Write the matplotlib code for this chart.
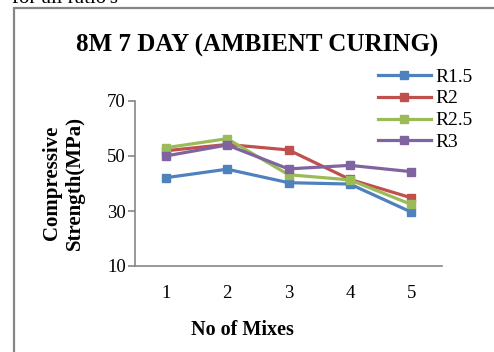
import matplotlib
matplotlib.use("Agg")
import matplotlib.pyplot as plt
from matplotlib.patches import Rectangle

mixes = ["1", "2", "3", "4", "5"]
r15 = [42.1, 45.2, 40.3, 39.8, 29.6]
r2 = [51.9, 54.2, 52.2, 41.5, 34.8]
r25 = [53.0, 56.3, 43.2, 41.3, 32.4]
r3 = [50.0, 54.0, 45.3, 46.6, 44.3]

series = [("R1.5", r15, "#4F81BD"), ("R2", r2, "#C0504D"),
          ("R2.5", r25, "#9BBB59"), ("R3", r3, "#8064A2")]

W, H = 494, 352
fig = plt.figure(figsize=(W / 100, H / 100), dpi=100)
fig.patch.set_facecolor("white")

serif = ["Liberation Serif", "DejaVu Serif"]

# outer chart frame (only left and top edges visible in the crop)
fig.add_artist(Rectangle((13.5 / W, -0.1), 1.0, 1 - 8.5 / H + 0.1, transform=fig.transFigure,
                         fill=False, edgecolor="#868686", linewidth=1.6))
fig.text(12 / W, 1 - 3 / H, "for all ratio's", family=serif, fontsize=15, va="baseline")

ax = fig.add_axes([135 / W, (H - 266) / H, 307 / W, 165 / H])
x = [i + 0.5 for i in range(len(mixes))]
for name, vals, col in series:
    ax.plot(x, vals, color=col, linewidth=2.3, marker="s", markersize=6,
            label=name, solid_joinstyle="round")

ax.set_xlim(0, len(mixes))
ax.set_ylim(10, 70)
ax.set_yticks([10, 30, 50, 70])
ax.set_xticks(x)
ax.set_xticklabels(mixes)
for s in ["top", "right"]:
    ax.spines[s].set_visible(False)
for s in ["left", "bottom"]:
    ax.spines[s].set_color("#868686")
    ax.spines[s].set_linewidth(1.2)
ax.tick_params(axis="y", length=5, width=1.2, color="#868686", pad=1.5)
ax.tick_params(axis="x", length=0, pad=14)
for lab in ax.get_xticklabels() + ax.get_yticklabels():
    lab.set_family(serif)
    lab.set_fontsize(13.5)

fig.text(257 / W, 1 - 45 / H, "8M 7 DAY (AMBIENT CURING)", family=serif,
         fontweight="bold", fontsize=18, ha="center", va="center")
fig.text(242 / W, 1 - 330 / H, "No of Mixes", family=serif, fontweight="bold",
         fontsize=14.5, ha="center", va="center")
fig.text(63 / W, 1 - 183 / H, "Compressive\nStrength(MPa)", family=serif,
         fontweight="bold", fontsize=15, ha="center", va="center",
         rotation=90, linespacing=1.2)

ax.legend(loc="upper left", bbox_to_anchor=(378 / W, 1 - 68 / H),
          bbox_transform=fig.transFigure, frameon=False,
          prop={"family": serif, "size": 14}, handlelength=2.7,
          handletextpad=0.25, labelspacing=0.22, borderaxespad=0, borderpad=0)

fig.savefig("out.png", dpi=100, facecolor="white")
